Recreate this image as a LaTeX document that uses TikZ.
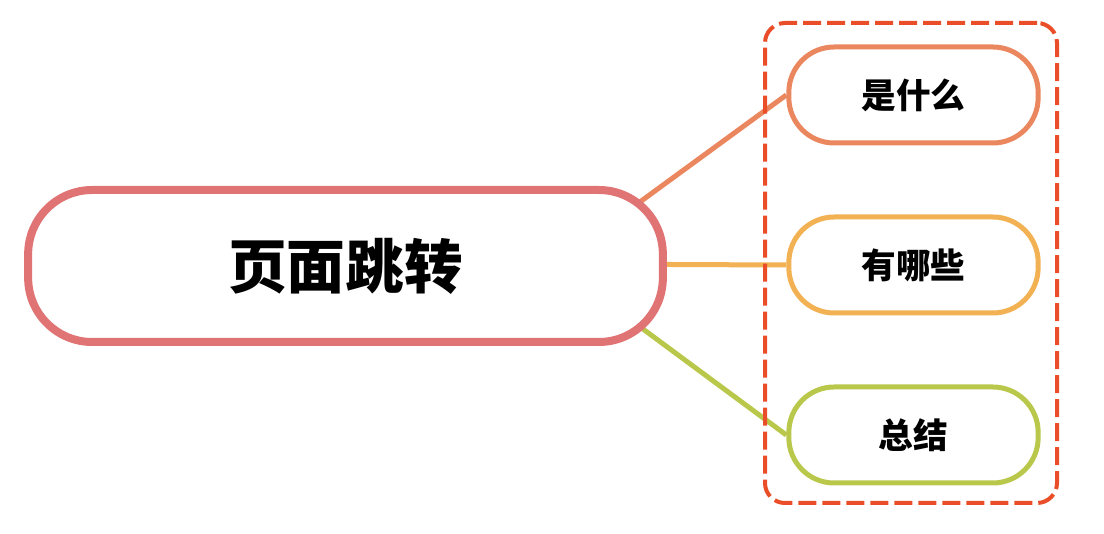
\documentclass[tikz,border=0pt]{standalone}
\usepackage{fontspec}
\usetikzlibrary{backgrounds}
\newfontfamily\cjk{Noto Sans CJK SC}
\definecolor{mainc}{HTML}{E07474}
\definecolor{c1}{HTML}{EB875F}
\definecolor{c2}{HTML}{F2B152}
\definecolor{c3}{HTML}{B9C84B}
\definecolor{grpc}{HTML}{E94E28}
\tikzset{
  mainnode/.style={draw=mainc, line width=6pt, fill=white, rounded corners=48pt,
    minimum width=476pt, minimum height=114pt, inner sep=0pt,
    font=\cjk\bfseries\fontsize{44}{50}\selectfont},
  childnode/.style={line width=3.75pt, fill=white, rounded corners=34pt,
    minimum width=187pt, minimum height=72pt, inner sep=0pt,
    font=\cjk\bfseries\fontsize{26}{30}\selectfont},
  link/.style={line width=3.75pt},
  grpbox/.style={draw=grpc, line width=3pt, dash pattern=on 13.5pt off 4.5pt,
    rounded corners=15pt, minimum width=219pt, minimum height=360pt, inner sep=0pt}
}
\begin{document}
\begin{tikzpicture}[x=0.75pt,y=-0.75pt]
\useasboundingbox (0,0) rectangle (1104,534);
\coordinate (hub) at (555,264);
\node[mainnode] (main) at (345.5,266) {页面跳转};
\node[grpbox] (grp) at (911,263) {};
\node[childnode, draw=c1] (n1) at (913.5,95) {是什么};
\node[childnode, draw=c2] (n2) at (913.5,265) {有哪些};
\node[childnode, draw=c3] (n3) at (913.5,435) {总结};
\begin{scope}[on background layer]
\draw[link, c1] (hub) -- (n1.west);
\draw[link, c2] (hub) -- (n2.west);
\draw[link, c3] (hub) -- (n3.west);
\end{scope}
\end{tikzpicture}
\end{document}
